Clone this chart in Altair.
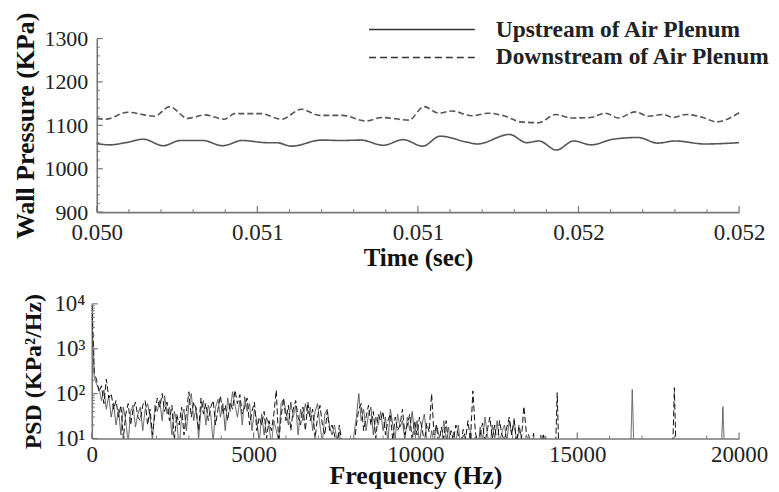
import json
import altair as alt
import pandas as pd

# ---------------- data ----------------
SERIES = ["Upstream of Air Plenum", "Downstream of Air Plenum"]

UP_T = [0.050000, 0.050040, 0.050090, 0.050145, 0.050207, 0.050260, 0.050330, 0.050392,
        0.050453, 0.050530, 0.050560, 0.050607, 0.050700, 0.050760, 0.050823, 0.050892,
        0.050954, 0.051015, 0.051069, 0.051154, 0.051185, 0.051285, 0.051339, 0.051377,
        0.051431, 0.051485, 0.051539, 0.051608, 0.051685, 0.051747, 0.051801, 0.051893,
        0.052000]
UP_P = [1058, 1055, 1060, 1068, 1053, 1065, 1065, 1053,
        1065, 1060, 1060, 1052, 1066, 1065, 1066, 1054,
        1067, 1052, 1075, 1061, 1057, 1079, 1060, 1064,
        1043, 1064, 1055, 1068, 1072, 1059, 1064, 1057,
        1060]

DN_T = [0.050000, 0.050028, 0.050096, 0.050180, 0.050227, 0.050283, 0.050335, 0.050398,
        0.050429, 0.050512, 0.050575, 0.050637, 0.050693, 0.050764, 0.050839, 0.050888,
        0.050972, 0.051019, 0.051065, 0.051106, 0.051168, 0.051220, 0.051267, 0.051320,
        0.051376, 0.051429, 0.051478, 0.051537, 0.051584, 0.051624, 0.051677, 0.051717,
        0.051764, 0.051795, 0.051835, 0.051888, 0.051929, 0.052000]
DN_P = [1116, 1114, 1130, 1121, 1143, 1116, 1124, 1114,
        1127, 1127, 1114, 1137, 1123, 1123, 1110, 1118,
        1112, 1143, 1128, 1133, 1122, 1128, 1122, 1108,
        1106, 1125, 1117, 1118, 1128, 1117, 1131, 1121,
        1125, 1118, 1125, 1118, 1108, 1129]

TIME_TICKS = [0.0500, 0.0505, 0.0510, 0.0515, 0.0520]
TIME_TICK_LABELS = ["0.050", "0.051", "0.051", "0.052", "0.052"]
TIME_MINOR = [0.0501, 0.0502, 0.0503, 0.0504, 0.0506, 0.0507, 0.0508, 0.0509,
              0.0511, 0.0512, 0.0513, 0.0514, 0.0516, 0.0517, 0.0518, 0.0519]
P_TICKS = [900, 1000, 1100, 1200, 1300]
P_MINOR = [920, 940, 960, 980, 1020, 1040, 1060, 1080,
           1120, 1140, 1160, 1180, 1220, 1240, 1260, 1280]

FREQ_STEP = 75
PSD_UP = [6000, 240, 160, 130, 70, 120, 45, 90, 30, 60,
          20, 45, 12, 50, 25, 8, 40, 55, 18, 35,
          50, 15, 45, 60, 30, 9, 55, 40, 70, 25,
          90, 35, 50, 12, 40, 25, 6, 30, 45, 15,
          60, 100, 25, 50, 10, 45, 70, 20, 55, 35,
          8, 50, 75, 30, 60, 15, 80, 40, 110, 55,
          30, 70, 20, 85, 40, 60, 15, 45, 25, 8,
          35, 12, 30, 20, 7, 25, 15, 9, 60, 75,
          40, 20, 65, 30, 55, 12, 45, 25, 60, 35,
          50, 15, 40, 60, 20, 8, 35, 45, 18, 12,
          20, 9, 14, 5, 6, 4, 8, 5, 12, 30,
          100, 25, 45, 15, 35, 50, 12, 30, 20, 40,
          15, 30, 8, 45, 20, 10, 35, 18, 25, 9,
          30, 15, 40, 12, 25, 8, 20, 35, 10, 6,
          15, 8, 20, 12, 6, 25, 9, 18, 5, 14,
          8, 20, 6, 12, 9, 4, 15, 7, 11, 5,
          18, 9, 30, 12, 6, 20, 10, 25, 8, 14,
          20, 9, 25, 12, 28, 8, 15, 11, 6, 12,
          9, 5, 11, 4, 3]
PSD_DN = [15000, 300, 200, 110, 150, 60, 210, 80, 100, 45,
          70, 30, 55, 10, 35, 60, 20, 45, 65, 30,
          25, 55, 70, 20, 45, 12, 35, 80, 50, 100,
          40, 65, 25, 55, 9, 35, 20, 50, 12, 40,
          110, 30, 65, 45, 15, 80, 35, 60, 25, 50,
          70, 20, 45, 90, 35, 55, 25, 65, 45, 120,
          60, 95, 35, 50, 80, 20, 40, 65, 15, 30,
          20, 40, 10, 25, 15, 35, 120, 8, 30, 80,
          25, 55, 15, 45, 70, 30, 20, 50, 15, 65,
          25, 45, 10, 30, 55, 20, 12, 40, 15, 20,
          12, 6, 20, 8, 4, 7, 3, 9, 6, 20,
          45, 60, 15, 30, 55, 20, 40, 10, 35, 25,
          40, 12, 25, 35, 9, 30, 15, 20, 45, 12,
          20, 35, 9, 25, 12, 30, 18, 8, 22, 14,
          100, 12, 20, 7, 18, 10, 25, 6, 15, 9,
          20, 12, 7, 16, 10, 25, 9, 115, 14, 8,
          12, 22, 8, 16, 30, 10, 20, 7, 25, 12,
          9, 18, 30, 12, 25, 8, 20, 10, 52, 14,
          12, 6, 13, 5, 4]
UP_TAIL_F = [13875, 13950, 14025, 14100, 16640, 16700, 16760, 19440, 19500, 19560, 20000]
UP_TAIL_V = [12, 4, 11, 3, 3, 123, 3, 3, 51, 3, 3]
DN_TAIL_F = [13875, 13950, 14025, 14100, 14320, 14380, 14440, 17940, 18000, 18060, 20000]
DN_TAIL_V = [4, 13, 5, 3, 3, 105, 3, 3, 136, 3, 3]

FREQ_TICKS = [0, 5000, 10000, 15000, 20000]
FREQ_MINOR = [1000, 2000, 3000, 4000, 6000, 7000, 8000, 9000,
              11000, 12000, 13000, 14000, 16000, 17000, 18000, 19000]
PSD_TICKS = [10, 100, 1000, 10000]
PSD_TICK_LABELS = ["10\u00b9", "10\u00b2", "10\u00b3", "10\u2074"]
PSD_MINOR = [20, 30, 40, 50, 60, 70, 80, 90,
             200, 300, 400, 500, 600, 700, 800, 900,
             2000, 3000, 4000, 5000, 6000, 7000, 8000, 9000]

# ---------------- frames ----------------
top_df = pd.concat([
    pd.DataFrame({"t": UP_T, "p": UP_P, "series": SERIES[0]}),
    pd.DataFrame({"t": DN_T, "p": DN_P, "series": SERIES[1]}),
], ignore_index=True)

up_f = [i * FREQ_STEP for i in range(len(PSD_UP))] + UP_TAIL_F
dn_f = [i * FREQ_STEP for i in range(len(PSD_DN))] + DN_TAIL_F
psd_df = pd.concat([
    pd.DataFrame({"f": up_f, "psd": PSD_UP + UP_TAIL_V, "series": SERIES[0]}),
    pd.DataFrame({"f": dn_f, "psd": PSD_DN + DN_TAIL_V, "series": SERIES[1]}),
], ignore_index=True)

W = 649
H1 = 174
H2 = 135
FONT = "Liberation Serif"
TICK_COLOR = "#777"

# ---------------- top panel ----------------
xs_top = alt.Scale(domain=[0.05, 0.052], range=[5, W], nice=False, zero=False)
ys_top = alt.Scale(domain=[900, 1300], nice=False, zero=False)

time_label_expr = (json.dumps(TIME_TICK_LABELS)
                   + "[round((datum.value - 0.05) / 0.0005)]")

lines = alt.Chart(top_df).mark_line(interpolate="monotone", strokeWidth=1.6, color="#555").encode(
    x=alt.X("t:Q", scale=xs_top,
            axis=alt.Axis(values=TIME_TICKS, labelExpr=time_label_expr, title="Time (sec)",
                          labelFontSize=23, titleFontSize=25, labelPadding=9, titlePadding=2,
                          labelFlush=False, labelOverlap=False)),
    y=alt.Y("p:Q", scale=ys_top,
            axis=alt.Axis(values=P_TICKS, format="d", title="Wall Pressure (KPa)", offset=-5,
                          labelFontSize=22, titleFontSize=26, labelPadding=9, titlePadding=5,
                          labelOverlap=False)),
    strokeDash=alt.StrokeDash("series:N", scale=alt.Scale(domain=SERIES, range=[[1, 0], [6, 3]]),
                              legend=None),
)

tx_major = alt.Chart(pd.DataFrame({"t": TIME_TICKS})).mark_rule(color=TICK_COLOR, strokeWidth=1.2).encode(
    x=alt.X("t:Q", scale=xs_top), y=alt.value(H1), y2=alt.value(H1 - 6))
tx_minor = alt.Chart(pd.DataFrame({"t": TIME_MINOR})).mark_rule(color=TICK_COLOR, strokeWidth=1).encode(
    x=alt.X("t:Q", scale=xs_top), y=alt.value(H1), y2=alt.value(H1 - 3))
ty_major = alt.Chart(pd.DataFrame({"p": P_TICKS})).mark_rule(color=TICK_COLOR, strokeWidth=1.2).encode(
    y=alt.Y("p:Q", scale=ys_top), x=alt.value(5), x2=alt.value(11))
ty_minor = alt.Chart(pd.DataFrame({"p": P_MINOR})).mark_rule(color=TICK_COLOR, strokeWidth=1).encode(
    y=alt.Y("p:Q", scale=ys_top), x=alt.value(5), x2=alt.value(8))

LEG_FONT_SIZE = 23.5
leg_line1 = alt.Chart(pd.DataFrame({"label": [SERIES[0]]})).mark_rule(color="#333", strokeWidth=1.6).encode(
    x=alt.value(278), x2=alt.value(384), y=alt.value(-9))
leg_line2 = alt.Chart(pd.DataFrame({"label": [SERIES[1]]})).mark_rule(
    color="#333", strokeWidth=1.6, strokeDash=[7, 4]).encode(
    x=alt.value(278), x2=alt.value(384), y=alt.value(19))
leg_text1 = alt.Chart(pd.DataFrame({"label": [SERIES[0]]})).mark_text(
    align="left", baseline="middle", font=FONT, fontSize=LEG_FONT_SIZE, fontWeight="bold", color="#222").encode(
    text="label:N", x=alt.value(405), y=alt.value(-9))
leg_text2 = alt.Chart(pd.DataFrame({"label": [SERIES[1]]})).mark_text(
    align="left", baseline="middle", font=FONT, fontSize=LEG_FONT_SIZE, fontWeight="bold", color="#222").encode(
    text="label:N", x=alt.value(405), y=alt.value(19))

top = alt.layer(lines, tx_major, tx_minor, ty_major, ty_minor,
                leg_line1, leg_line2, leg_text1, leg_text2).properties(width=W, height=H1)

# ---------------- bottom panel ----------------
xs_bot = alt.Scale(domain=[0, 20000], nice=False, zero=False)
ys_bot = alt.Scale(type="log", domain=[10, 10000], nice=False)

psd_label_expr = json.dumps(PSD_TICK_LABELS) + "[round(log(datum.value) / log(10)) - 1]"

psd = alt.Chart(psd_df).mark_line(clip=True, strokeWidth=1.0).encode(
    x=alt.X("f:Q", scale=xs_bot,
            axis=alt.Axis(values=FREQ_TICKS, title="Frequency (Hz)", format="d",
                          labelFontSize=23, titleFontSize=26, labelPadding=5, titlePadding=-4,
                          labelFlush=False, labelOverlap=False)),
    y=alt.Y("psd:Q", scale=ys_bot,
            axis=alt.Axis(values=PSD_TICKS, labelExpr=psd_label_expr, title="PSD (KPa\u00b2/Hz)",
                          labelFontSize=23, titleFontSize=24, labelPadding=7, titlePadding=8,
                          labelOverlap=False)),
    color=alt.Color("series:N", scale=alt.Scale(domain=SERIES, range=["#555555", "#111111"]), legend=None),
    strokeDash=alt.StrokeDash("series:N", scale=alt.Scale(domain=SERIES, range=[[1, 0], [3, 2]]),
                              legend=None),
)

fx_major = alt.Chart(pd.DataFrame({"f": FREQ_TICKS})).mark_rule(color=TICK_COLOR, strokeWidth=1.2).encode(
    x=alt.X("f:Q", scale=xs_bot), y=alt.value(H2), y2=alt.value(H2 - 6))
fx_minor = alt.Chart(pd.DataFrame({"f": FREQ_MINOR})).mark_rule(color=TICK_COLOR, strokeWidth=1).encode(
    x=alt.X("f:Q", scale=xs_bot), y=alt.value(H2), y2=alt.value(H2 - 3))
fy_major = alt.Chart(pd.DataFrame({"psd": PSD_TICKS})).mark_rule(color=TICK_COLOR, strokeWidth=1.2).encode(
    y=alt.Y("psd:Q", scale=ys_bot), x=alt.value(0), x2=alt.value(6))
fy_minor = alt.Chart(pd.DataFrame({"psd": PSD_MINOR})).mark_rule(color=TICK_COLOR, strokeWidth=1).encode(
    y=alt.Y("psd:Q", scale=ys_bot), x=alt.value(0), x2=alt.value(3))

bottom = alt.layer(psd, fx_major, fx_minor, fy_major, fy_minor).properties(width=W, height=H2)

chart = alt.vconcat(top, bottom, spacing=22).properties(
    padding={"left": 5, "top": 3, "right": 0, "bottom": 0}
).configure_axis(
    grid=False, ticks=False, domainColor="#777", domainWidth=1.6,
    labelFont=FONT, labelColor="#222", titleFont=FONT, titleFontWeight="bold", titleColor="#111",
).configure_view(stroke=None)

chart.save("out.html", embed_options={"renderer": "svg", "actions": False})
